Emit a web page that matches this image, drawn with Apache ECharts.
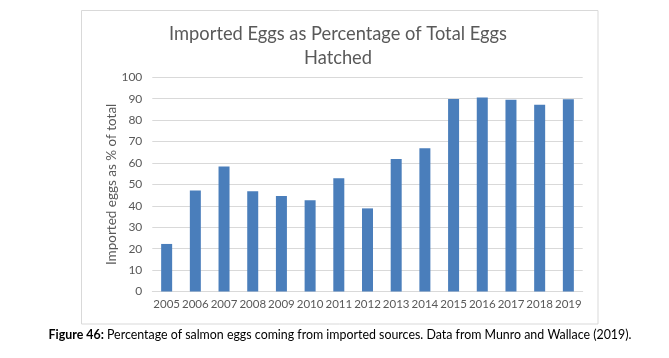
<!DOCTYPE html>
<html>
<head>
<meta charset="utf-8">
<script src="https://cdn.jsdelivr.net/npm/echarts@6/dist/echarts.min.js"></script>
<style>
html,body{margin:0;padding:0;background:#fff;}
#chart{width:669px;height:358px;}
</style>
</head>
<body>
<div id="chart"></div>
<script>
const years = ['2005','2006','2007','2008','2009','2010','2011','2012','2013','2014','2015','2016','2017','2018','2019'];
const importedPct = [22.2, 47.1, 58.3, 46.8, 44.6, 42.6, 52.9, 38.8, 61.8, 66.9, 89.9, 90.6, 89.5, 87.2, 89.7];
const yTicks = { min: 0, max: 100, interval: 10 };
const titleText = 'Imported Eggs as Percentage of Total Eggs\nHatched';
const yAxisName = 'Imported eggs as % of total';
const captionBold = 'Figure 46:';
const captionRest = ' Percentage of salmon eggs coming from imported sources. Data from Munro and Wallace (2019).';

const FONT = 'Lato';
const chart = echarts.init(document.getElementById('chart'), null, {renderer: 'canvas'});
chart.setOption({
  animation: false,
  backgroundColor: '#ffffff',
  grid: { left: 152.3, right: 86.3, top: 77.3, bottom: 66.5, containLabel: false },
  xAxis: {
    type: 'category',
    data: years,
    axisLine: { show: true, lineStyle: { color: '#d9d9d9', width: 1 } },
    axisTick: { show: false },
    axisLabel: { color: '#595959', fontFamily: FONT, fontSize: 11.5, margin: 7, interval: 0 }
  },
  yAxis: {
    type: 'value',
    min: yTicks.min, max: yTicks.max, interval: yTicks.interval,
    name: yAxisName,
    nameLocation: 'middle',
    nameGap: 34,
    nameMoveOverlap: false,
    nameTextStyle: { color: '#595959', fontFamily: FONT, fontSize: 13.5 },
    axisLine: { show: false },
    axisTick: { show: false },
    axisLabel: { color: '#595959', fontFamily: FONT, fontSize: 12, margin: 10 },
    splitLine: { lineStyle: { color: '#d9d9d9', width: 1 } }
  },
  series: [{
    type: 'bar',
    data: importedPct,
    barWidth: 11,
    itemStyle: { color: '#4a7ebb' }
  }],
  graphic: [
    { type: 'rect', shape: { x: 81.5, y: 10.5, width: 516.5, height: 313.5 },
      style: { fill: 'none', stroke: '#d9d9d9', lineWidth: 1 }, z: -1 },
    { type: 'text', x: 338, y: 46, style: { text: titleText, fill: '#595959', font: '18.3px ' + FONT,
      align: 'center', verticalAlign: 'middle', lineHeight: 24 } },
    { type: 'text', x: 340, y: 335, style: {
      text: '{b|' + captionBold + '}{r|' + captionRest + '}',
      align: 'center', verticalAlign: 'middle',
      rich: {
        b: { fontFamily: FONT, fontSize: 12.4, fontWeight: 'bold', fill: '#000' },
        r: { fontFamily: FONT, fontSize: 12.4, fill: '#000' }
      }
    } }
  ]
});
</script>
</body>
</html>
